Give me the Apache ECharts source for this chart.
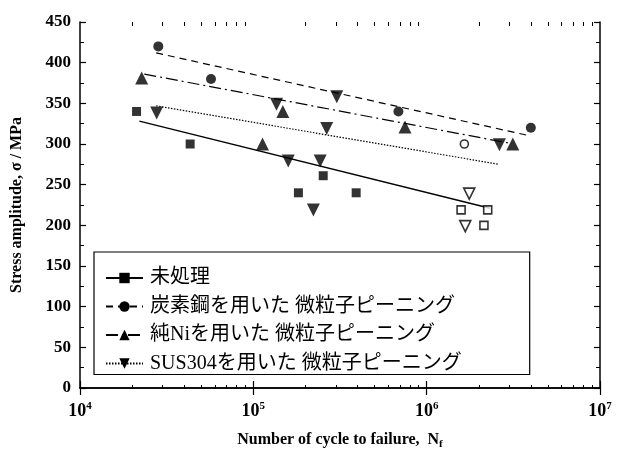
<!DOCTYPE html>
<html><head><meta charset="utf-8">
<script src="https://cdn.jsdelivr.net/npm/echarts@6/dist/echarts.min.js"></script>
<style>html,body{margin:0;padding:0;background:#fff}#c{width:620px;height:455px}</style>
</head><body><div id="c"></div>
<script>
// ---- data ----
const seriesNames = ['未処理', '炭素鋼を用いた 微粒子ピーニング', '純Niを用いた 微粒子ピーニング', 'SUS304を用いた 微粒子ピーニング'];
const untreatedPts  = [[21200, 340], [43200, 300], [182000, 240], [253000, 261], [392000, 240]];
const untreatedOpen = [[1580000, 219], [2250000, 219], [2140000, 200]];
const untreatedFit  = [[22000, 328], [2320000, 221]];
const carbonPts  = [[28300, 420], [57000, 380], [687000, 340], [3990000, 320]];
const carbonOpen = [[1650000, 300]];
const carbonFit  = [[27500, 412], [3950000, 310]];
const niPts = [[22700, 381], [148000, 340], [113000, 300], [750000, 321], [3140000, 300]];
const niFit = [[23500, 386], [3000000, 301]];
const susPts  = [[27700, 338], [136000, 349], [303000, 358], [265000, 319], [159000, 279], [243000, 279], [222000, 219], [2630000, 299]];
const susOpen = [[1760000, 239], [1670000, 199]];
const susFit  = [[27500, 347], [2620000, 275]];
const xMin = 1e4, xMax = 1e7;
const yMin = 0, yMax = 450, yInterval = 50;
const minorTickExps = [];
for (let d = 4; d <= 6; d++) for (let k = 2; k <= 9; k++) minorTickExps.push(Math.log10(k * Math.pow(10, d)));

const SERIF = '"Liberation Serif", "Times New Roman", serif';
const LEG_FONT = '"Liberation Serif", "Noto Sans CJK JP", serif';
const G = {left: 80, right: 20, top: 22, bottom: 66};

const chart = echarts.init(document.getElementById('c'), null, {renderer: 'canvas'});

function fitLine(name, data, symbol, rotate, type, width) {
  return {
    name: name, type: 'line', xAxisIndex: 0, yAxisIndex: 0, data: data,
    showSymbol: false, symbol: symbol, symbolRotate: rotate, symbolSize: 10,
    itemStyle: {color: '#000'},
    lineStyle: {color: '#000', width: width, type: type},
    silent: true, z: 2
  };
}
function pts(data, symbol, size, rotate, hollow) {
  return {
    type: 'scatter', xAxisIndex: 0, yAxisIndex: 0, data: data,
    symbol: symbol, symbolSize: size, symbolRotate: rotate,
    itemStyle: hollow ? {color: '#fff', borderColor: '#000', borderWidth: 1.6} : {color: '#000'},
    z: 3
  };
}

const option = {
  animation: false,
  backgroundColor: '#fff',
  grid: [
    Object.assign({}, G),
    Object.assign({}, G)
  ],
  xAxis: [
    {gridIndex: 0, type: 'log', logBase: 10, min: xMin, max: xMax, position: 'bottom',
     axisLine: {lineStyle: {color: '#000', width: 1.5}},
     axisTick: {inside: true, length: 7, lineStyle: {color: '#000', width: 1.2}},
     splitLine: {show: false},
     axisLabel: {margin: 13, color: '#000',
       formatter: function (v) { return '{b|10}{s|' + Math.round(Math.log10(v)) + '}'; },
       rich: {b: {fontFamily: SERIF, fontWeight: 'bold', fontSize: 18, color: '#000', lineHeight: 20},
              s: {fontFamily: SERIF, fontWeight: 'bold', fontSize: 11, color: '#000', verticalAlign: 'top', lineHeight: 20}}},
     name: '{t|Number of cycle to failure,  N}{sub|f}', nameLocation: 'middle', nameGap: 42,
     nameTextStyle: {rich: {t: {fontFamily: SERIF, fontWeight: 'bold', fontSize: 16, color: '#000', lineHeight: 20},
                             sub: {fontFamily: SERIF, fontWeight: 'bold', fontSize: 11, color: '#000', verticalAlign: 'bottom', lineHeight: 20}}}},
    {gridIndex: 0, type: 'log', logBase: 10, min: xMin, max: xMax, position: 'top',
     axisLine: {lineStyle: {color: '#000', width: 1.5}},
     axisTick: {inside: true, length: 7, lineStyle: {color: '#000', width: 1.2}},
     axisLabel: {show: false}, splitLine: {show: false}},
    {gridIndex: 1, type: 'value', min: 4, max: 7, position: 'bottom',
     axisLine: {show: false}, axisLabel: {show: false}, splitLine: {show: false},
     axisTick: {show: true, inside: true, length: 4, customValues: minorTickExps, lineStyle: {color: '#000', width: 1}}},
    {gridIndex: 1, type: 'value', min: 4, max: 7, position: 'top',
     axisLine: {show: false}, axisLabel: {show: false}, splitLine: {show: false},
     axisTick: {show: true, inside: true, length: 4, customValues: minorTickExps, lineStyle: {color: '#000', width: 1}}}
  ],
  yAxis: [
    {gridIndex: 0, type: 'value', min: yMin, max: yMax, interval: yInterval, position: 'left',
     axisLine: {show: true, lineStyle: {color: '#000', width: 1.5}},
     axisTick: {show: true, inside: true, length: 6, lineStyle: {color: '#000', width: 1.2}},
     minorTick: {show: true, splitNumber: 2, length: 4, lineStyle: {color: '#000', width: 1}},
     splitLine: {show: false},
     axisLabel: {margin: 9, color: '#000', fontFamily: SERIF, fontWeight: 'bold', fontSize: 17},
     name: 'Stress amplitude, σ / MPa', nameLocation: 'middle', nameGap: 55,
     nameTextStyle: {fontFamily: SERIF, fontWeight: 'bold', fontSize: 16, color: '#000'}},
    {gridIndex: 0, type: 'value', min: yMin, max: yMax, interval: yInterval, position: 'right',
     axisLine: {show: true, lineStyle: {color: '#000', width: 1.5}},
     axisTick: {show: true, inside: true, length: 6, lineStyle: {color: '#000', width: 1.2}},
     minorTick: {show: true, splitNumber: 2, length: 4, lineStyle: {color: '#000', width: 1}},
     splitLine: {show: false}, axisLabel: {show: false}},
    {gridIndex: 1, type: 'value', min: yMin, max: yMax, show: false}
  ],
  legend: {
    data: seriesNames,
    orient: 'vertical', left: 94, top: 252,
    padding: [16, 68, 1, 11], itemGap: 8.5, itemWidth: 37, itemHeight: 13,
    borderColor: '#000', borderWidth: 1.2, backgroundColor: '#fff',
    textStyle: {fontFamily: LEG_FONT, fontSize: 20, color: '#000', lineHeight: 20, padding: [0, 0, 0, 2]},
    inactiveColor: '#000', selectedMode: false
  },
  series: [
    fitLine(seriesNames[0], untreatedFit, 'rect', 0, 'solid', 1.3),
    fitLine(seriesNames[1], carbonFit, 'circle', 0, [7, 5], 1.2),
    fitLine(seriesNames[2], niFit, 'triangle', 0, [12, 4, 2, 4], 1.2),
    fitLine(seriesNames[3], susFit, 'triangle', 180, [1.5, 1.5], 1.2),
    pts(untreatedPts, 'rect', 9, 0, false),
    pts(untreatedOpen, 'rect', 8, 0, true),
    pts(carbonPts, 'circle', 10, 0, false),
    pts(carbonOpen, 'circle', 8, 0, true),
    pts(niPts, 'triangle', 13, 0, false),
    pts(susPts, 'triangle', 13, 180, false),
    pts(susOpen, 'triangle', 11, 180, true)
  ]
};
chart.setOption(option);
</script></body></html>
